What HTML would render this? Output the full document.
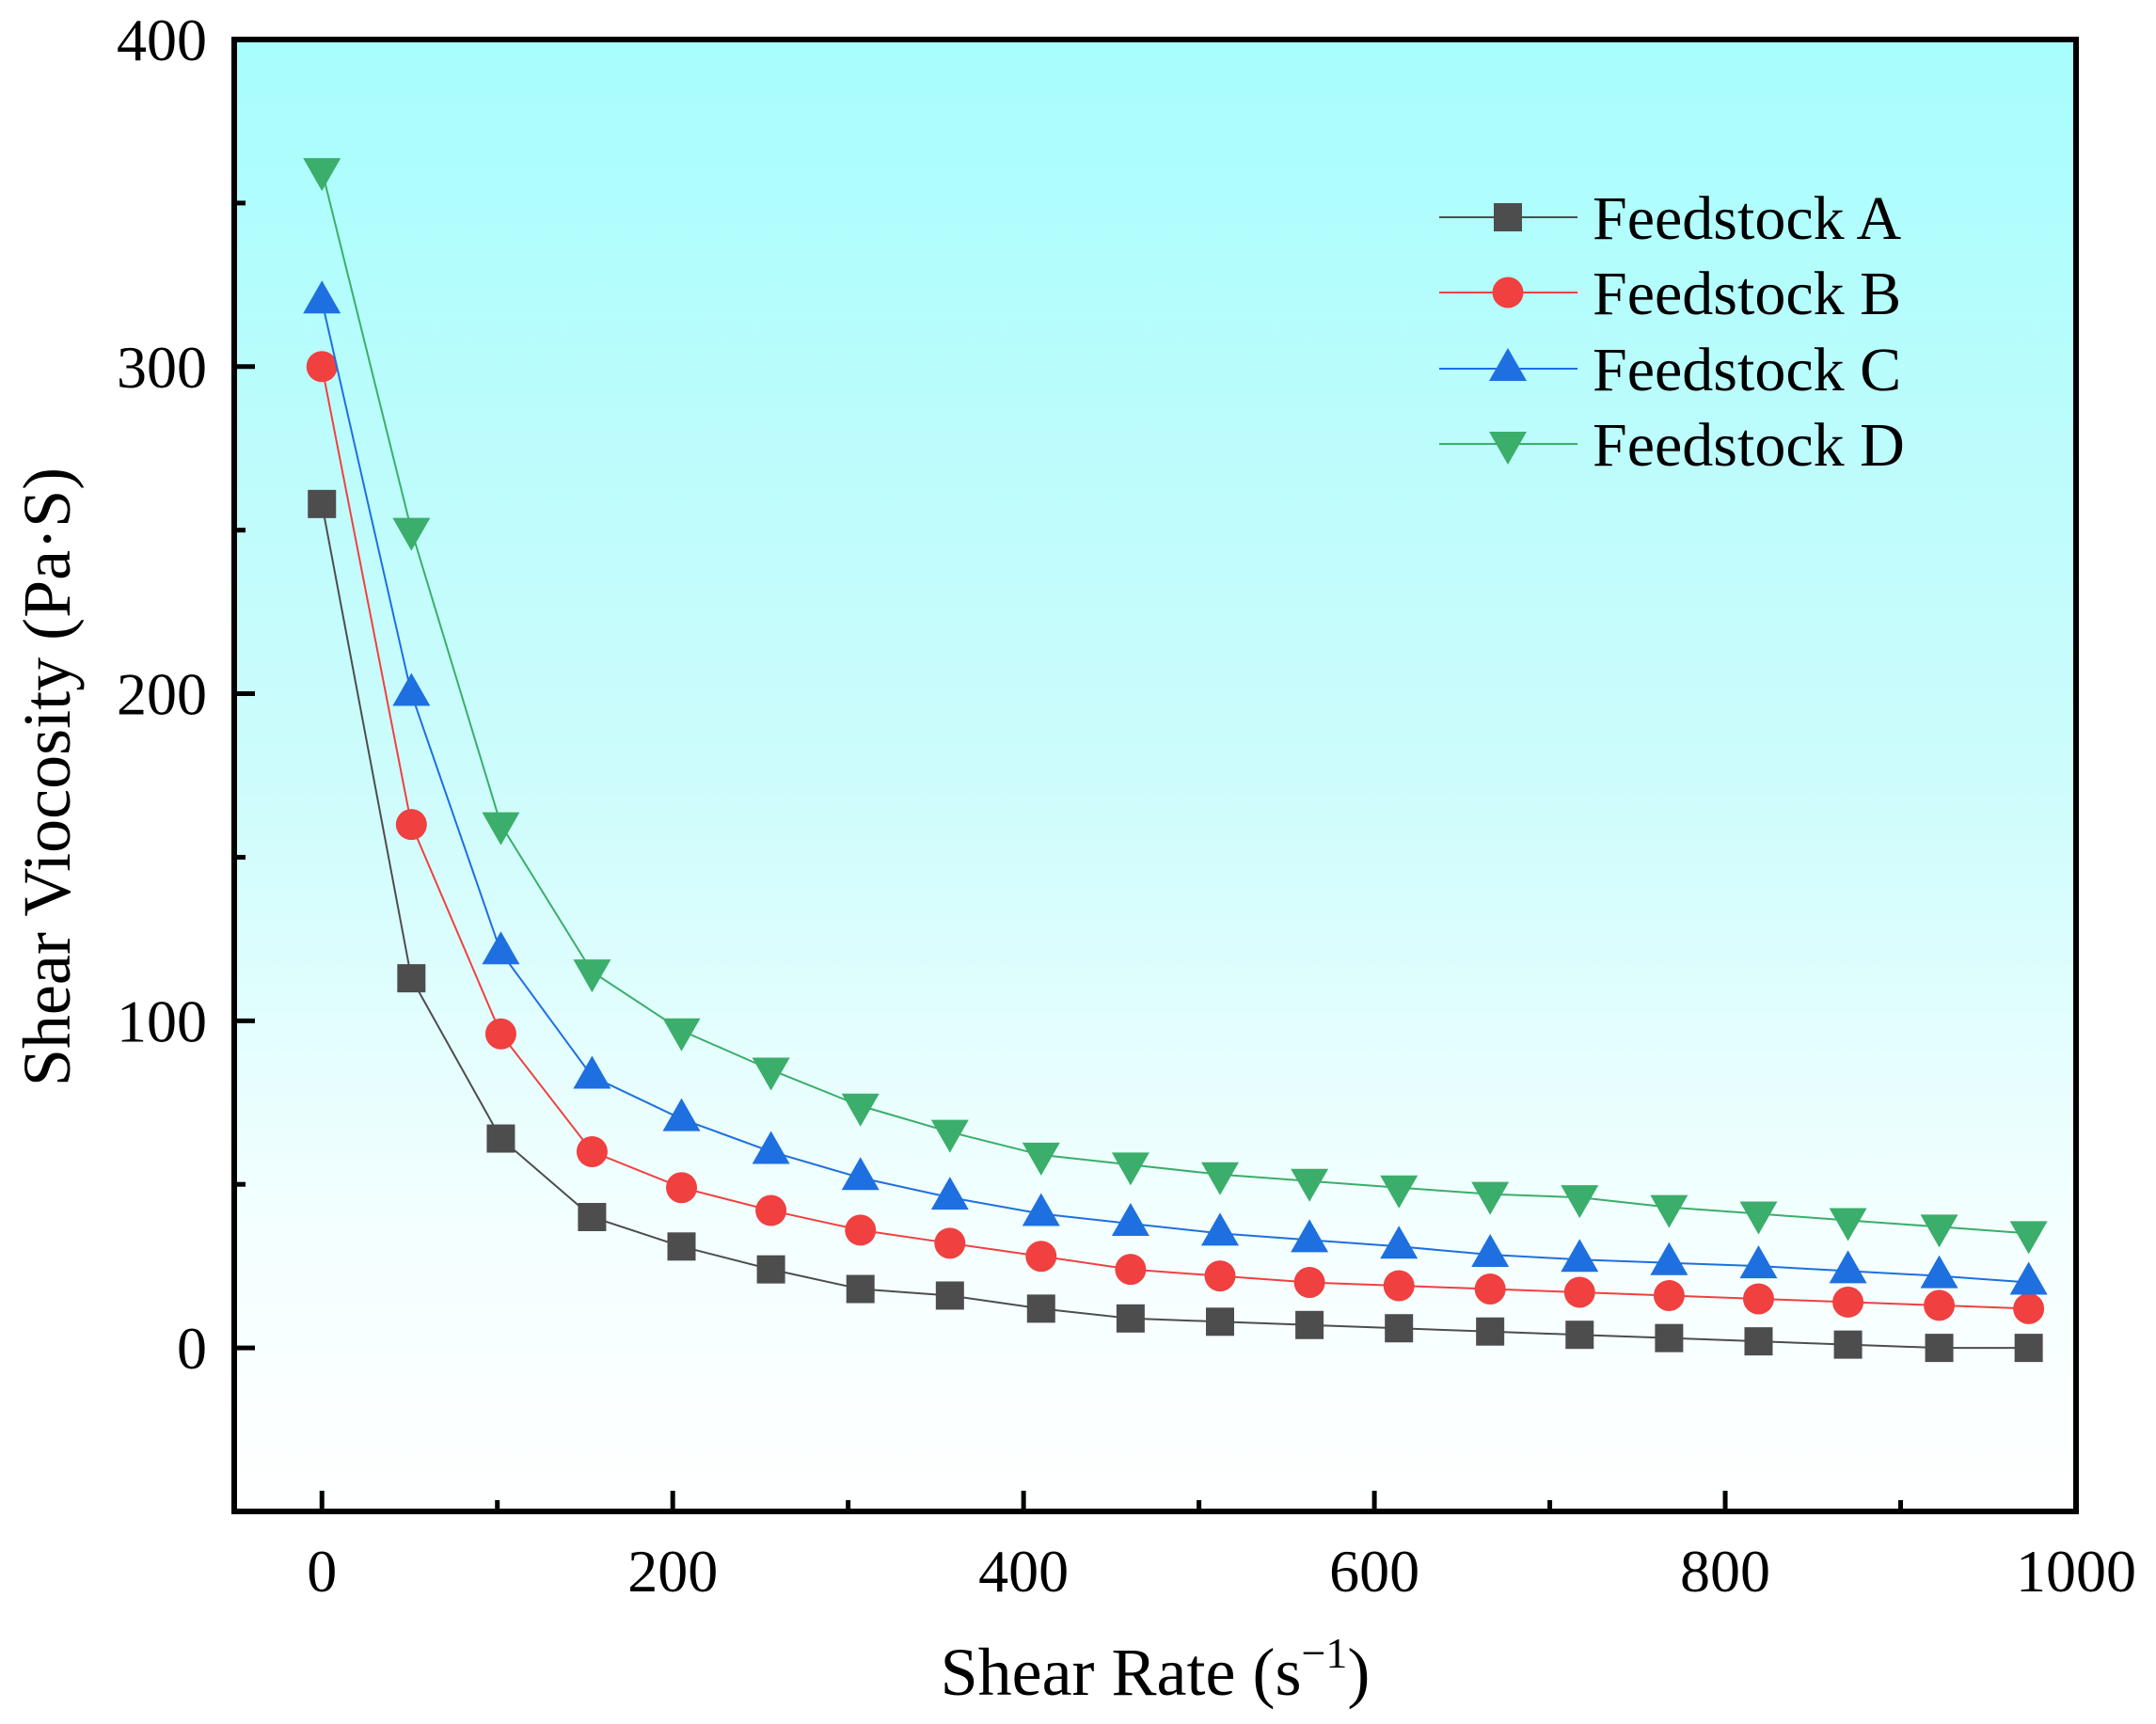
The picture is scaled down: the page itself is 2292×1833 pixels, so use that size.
<!DOCTYPE html>
<html><head><meta charset="utf-8"><style>
html,body{margin:0;padding:0;background:#fff;}
svg{display:block;font-family:"Liberation Serif",serif;}
</style></head><body>
<svg id="chart" width="2292" height="1833" viewBox="0 0 2292 1833" xmlns="http://www.w3.org/2000/svg">
<defs><linearGradient id="bg" x1="0" y1="0" x2="0" y2="1">
<stop offset="0" stop-color="#a8fdfd"/><stop offset="0.5" stop-color="#cdfcfc"/><stop offset="0.8" stop-color="#f3ffff"/><stop offset="1" stop-color="#ffffff"/></linearGradient></defs>
<rect x="249" y="42" width="1958" height="1565" fill="url(#bg)"/>
<g id="series"></g>
<g id="axes"></g>
<g id="legend"></g>
<text x="1228" y="1802" font-size="72" text-anchor="middle">Shear Rate (s<tspan dy="-29" font-size="46">−1</tspan><tspan dy="29">)</tspan></text>
<text transform="translate(74,826) rotate(-90)" font-size="72" text-anchor="middle">Shear Viocosity (Pa·S)</text>
</svg>
<script>
const xValues=[0,51,102,154,205,256,307,358,410,461,512,563,614,666,717,768,819,870,922,973];
const seriesA=[258,113,64,40,31,24,18,16,12,9,8,7,6,5,4,3,2,1,0,0];
const seriesB=[300,160,96,60,49,42,36,32,28,24,22,20,19,18,17,16,15,14,13,12];
const seriesC=[320,200,121,83,70,60,52,46,41,38,35,33,31,28.5,27,26,25,23.5,22,20];
const seriesD=[360,250,160,115,97,85,74,66,59,56,53,51,49,47,46,43,41,39,37,35];
const seriesNames=["Feedstock A","Feedstock B","Feedstock C","Feedstock D"];
const xTicks=[0,200,400,600,800,1000];
const yTicks=[0,100,200,300,400];
const NS="http://www.w3.org/2000/svg";
const L=249,R=2207,T=42,B=1607;
const X0=-50,X1=1000,Y0=-50,Y1=400;
function sx(v){return L+(v-X0)/(X1-X0)*(R-L);}
function sy(v){return B-(v-Y0)/(Y1-Y0)*(B-T);}
function mk(tag,attrs,parent){const e=document.createElementNS(NS,tag);for(const k in attrs)e.setAttribute(k,attrs[k]);parent.appendChild(e);return e;}
const styles=[{c:"#4d4d4d",m:"sq"},{c:"#f04040",m:"ci"},{c:"#1e6fe0",m:"tu"},{c:"#3aae6a",m:"td"}];
function marker(type,x,y,c,parent){
  let e;
  if(type==="sq")e=mk("rect",{x:x-15,y:y-15,width:30,height:30,fill:c},parent);
  else if(type==="ci")e=mk("circle",{cx:x,cy:y,r:16.5,fill:c},parent);
  else if(type==="tu")e=mk("polygon",{points:`${x},${y-22} ${x-20},${y+13} ${x+20},${y+13}`,fill:c},parent);
  else e=mk("polygon",{points:`${x},${y+22} ${x-20},${y-13} ${x+20},${y-13}`,fill:c},parent);
  return e;
}
const sg=document.getElementById("series");
[seriesA,seriesB,seriesC,seriesD].forEach((s,i)=>{
  const g=mk("g",{},sg);
  
  
  const pl=mk("polyline",{points:s.map((v,j)=>sx(xValues[j])+","+sy(v)).join(" "),fill:"none",stroke:styles[i].c,"stroke-width":2},g);
  
  
  s.forEach((v,j)=>{const m=marker(styles[i].m,sx(xValues[j]),sy(v),styles[i].c,g);
    
    });
});
const ag=document.getElementById("axes");
const fr=mk("rect",{x:L,y:T,width:R-L,height:B-T,fill:"none",stroke:"#000","stroke-width":6},ag);


for(let v=0;v<=1000;v+=100){
  const major=v%200===0;
  const t=mk("line",{x1:sx(v),x2:sx(v),y1:B,y2:B-(major?22:12),stroke:"#000","stroke-width":5},ag);
  
  
}
for(let v=-50;v<=400;v+=50){
  const major=v%100===0;
  const t=mk("line",{x1:L,x2:L+(major?22:12),y1:sy(v),y2:sy(v),stroke:"#000","stroke-width":5},ag);
  
  
}
xTicks.forEach(v=>{const t=mk("text",{x:sx(v),y:1692,"font-size":64,"text-anchor":"middle"},ag);t.textContent=v;
  
  });
yTicks.forEach(v=>{const t=mk("text",{x:220,y:sy(v)+22,"font-size":64,"text-anchor":"end"},ag);t.textContent=v;
  
  });
const lg=document.getElementById("legend");
const rows=[231,311,392,472];
seriesNames.forEach((n,i)=>{
  const g=mk("g",{},lg);
  
  
  mk("line",{x1:1530,x2:1677,y1:rows[i],y2:rows[i],stroke:styles[i].c,"stroke-width":2},g);
  marker(styles[i].m,1603,rows[i],styles[i].c,g);
  const t=mk("text",{x:1693,y:rows[i]+23,"font-size":66},g);t.textContent=n;
});
</script>
</body></html>
